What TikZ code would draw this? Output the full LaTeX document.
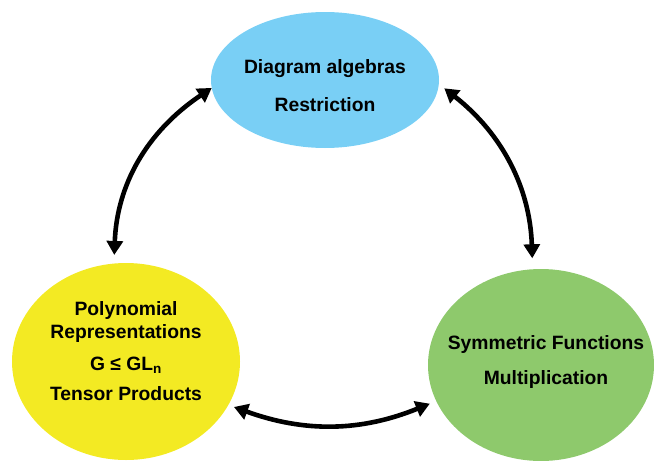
\documentclass[tikz,border=0pt]{standalone}
\usepackage{fontspec}
\setmainfont{Liberation Sans}
\usepackage{tikz}
\usetikzlibrary{shapes.geometric}
\usetikzlibrary{arrows.meta}
\definecolor{skyblue}{RGB}{121,207,245}
\definecolor{lemon}{RGB}{243,234,35}
\definecolor{leafgreen}{RGB}{142,201,108}
\begin{document}
\begin{tikzpicture}[x=1pt,y=1pt]
  \tikzset{blob style/.style = {ellipse, draw=none, inner sep = 0pt, outer sep = 0pt},
           label style/.style = {align=center, inner sep = 0pt, font=\bfseries\fontsize{19.3}{23}\selectfont},
           arrow style/.style = {line width=4.6pt, {Triangle[length=14pt,width=16pt]}-{Triangle[length=14pt,width=16pt]}}}
   \useasboundingbox (0,0) rectangle (654,-461);
   \node[blob style, fill=skyblue, minimum width=228, minimum height=136] (diag) at (325,-80) {};
   \node[blob style, fill=lemon, minimum width=228, minimum height=197] (poly) at (126,-361.5) {};
   \node[blob style, fill=leafgreen, minimum width=226, minimum height=192] (sym) at (541,-365) {};
   \node[label style] (diagtxt) at (325,-86) {Diagram algebras\\[15pt]Restriction};
   \node[label style] (polytxt) at (126,-351) {Polynomial\\Representations\\[9pt]G ≤ GL\textsubscript{n}\\[7pt]Tensor Products};
   \node[label style] (symtxt) at (546,-362.5) {Symmetric Functions\\[12pt]Multiplication};
   \draw[arrow style, shorten <=8.6pt] (poly.97) to[bend left=27] (diag.184.5);
   \draw[arrow style, shorten <=7pt, shorten >=11pt] (diag.-2.4) to[bend left=25] (sym.95.3);
   \draw[arrow style, shorten <=6pt, shorten >=7pt] (poly.-23.5) to[bend right=21] (sym.199.8);
\end{tikzpicture}
\end{document}
